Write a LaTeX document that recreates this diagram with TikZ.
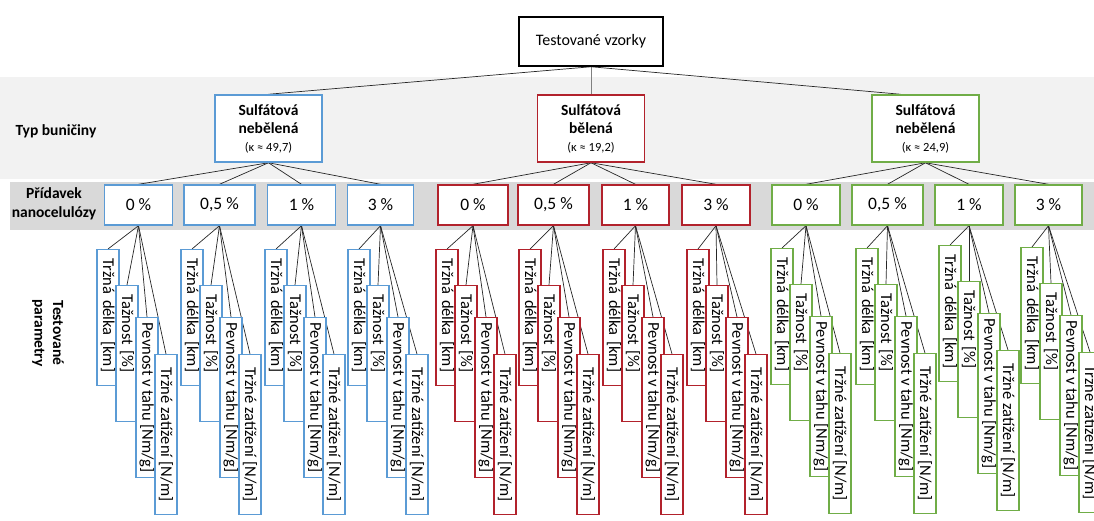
\documentclass[tikz,border=0pt]{standalone}
\usepackage{fontspec}
\setmainfont{Carlito}
\usetikzlibrary{backgrounds,calc}
\definecolor{cblue}{RGB}{91,155,213}
\definecolor{cred}{RGB}{178,34,44}
\definecolor{cgreen}{RGB}{112,173,71}
\definecolor{bandA}{RGB}{242,242,242}
\definecolor{bandB}{RGB}{217,217,217}
\begin{document}
\begin{tikzpicture}[x=1pt,y=-1pt,
  topbox/.style={draw=black, fill=white, line width=1.5pt, minimum width=144, minimum height=49, inner sep=0pt, font=\fontsize{16}{19}\selectfont},
  tbox/.style={draw, fill=white, line width=1.5pt, minimum width=107, minimum height=67, inner sep=1pt, align=center, font=\bfseries\fontsize{15.5}{18}\selectfont},
  pbox/.style={draw, fill=white, line width=1.4pt, minimum height=40, inner sep=0pt, font=\fontsize{17.5}{20}\selectfont},
  parbox/.style={draw, fill=white, line width=1.3pt, rotate=-90, anchor=west, minimum height=22, inner ysep=1pt, font=\fontsize{16.5}{19}\selectfont},
  parA/.style={parbox, align=left, text width=118, inner xsep=9pt},
  parB/.style={parbox, minimum width=160, inner xsep=2pt},
  lbl/.style={align=center, font=\bfseries\fontsize{15.5}{18.5}\selectfont},
  conn/.style={draw=black!85, line width=0.7pt}]
\useasboundingbox (0,0) rectangle (1094,520);

% row labels
\node[lbl, anchor=west] (l1) at (12,131) {Typ buničiny};
\node[lbl] (l2) at (54,204) {Přídavek\\nanocelulózy};
\node[lbl, rotate=-90] (l3) at (48,333) {Testované\\parametry};

% top
\node[topbox] (top) at (591,41.5) {Testované vzorky};

% pulp types
\node[tbox, draw=cblue] (tb) at (268.5,128.5) {Sulfátová\\nebělená\\{\normalfont\fontsize{12.5}{18}\selectfont (κ ≈ 49,7)}};
\node[tbox, draw=cred] (tr) at (591,128.5) {Sulfátová\\bělená\\{\normalfont\fontsize{12.5}{18}\selectfont (κ ≈ 19,2)}};
\node[tbox, draw=cgreen] (tg) at (925.5,128.5) {Sulfátová\\nebělená\\{\normalfont\fontsize{12.5}{18}\selectfont (κ ≈ 24,9)}};

% additions and tested parameters
\foreach \i/\x/\w/\lab/\col/\pc/\ty in {
  1/138.5/68/{0 \%}/cblue/137/249,
  2/219.5/71/{0,5 \%}/cblue/221/249,
  3/301.5/68/{1 \%}/cblue/305/249,
  4/380.5/66/{3 \%}/cblue/388/249,
  5/473/70/{0 \%}/cred/476/249,
  6/553.5/71/{0,5 \%}/cred/559/249,
  7/635.5/67/{1 \%}/cred/643/249,
  8/716/68/{3 \%}/cred/727/249,
  9/806/68/{0 \%}/cgreen/811/248,
  10/887.5/71/{0,5 \%}/cgreen/896/248,
  11/969/68/{1 \%}/cgreen/979/245,
  12/1048.5/67/{3 \%}/cgreen/1061/247}{
  \node[pbox, draw=\col, minimum width=\w] (p\i) at (\x,205) {\lab};
  \node[parA, draw=\col] (q\i-1) at (\pc-29,\ty) {Tržná délka [km]};
  \node[parA, draw=\col] (q\i-2) at (\pc-10,\ty+36) {Tažnost [\%]};
  \node[parB, draw=\col] (q\i-3) at (\pc+10,\ty+68) {Pevnost v tahu [Nm/g]};
  \node[parB, draw=\col] (q\i-4) at (\pc+29,\ty+105) {Tržné zatížení [N/m]};
}

\begin{scope}[on background layer]
  \fill[bandA] (0,77) rectangle (1094,179);
  \fill[bandB] (10,182) rectangle (1094,230);
  \draw[conn] (top.south) -- (tb.north);
  \draw[conn, draw=gray] (top.south) -- (tr.north);
  \draw[conn] (top.south) -- ($(tg.north west)!0.27!(tg.north east)$);
  \foreach \i/\t in {1/tb,2/tb,3/tb,4/tb,5/tr,6/tr,7/tr,8/tr,9/tg,10/tg,11/tg,12/tg}{
    \draw[conn] (\t.south) -- (p\i.north);
    \foreach \j in {1,2,3,4}{
      \draw[conn] (p\i.south) -- (q\i-\j.west);
    }
  }
\end{scope}
\end{tikzpicture}
\end{document}
